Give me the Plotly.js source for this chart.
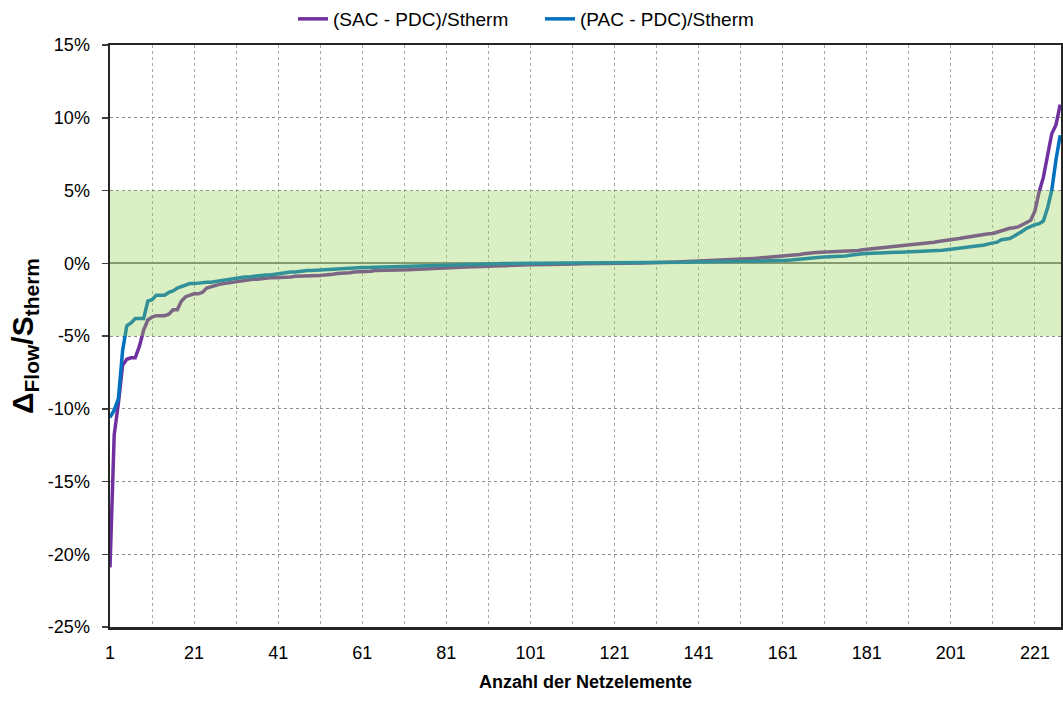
<!DOCTYPE html>
<html>
<head>
<meta charset="utf-8">
<script src="https://cdn.plot.ly/plotly-3.0.1.min.js"></script>
<style>
html,body{margin:0;padding:0;background:#fff;}
#chart{width:1063px;height:702px;}
</style>
</head>
<body>
<div id="chart"></div>
<script>
// Series names
var seriesNames = ["(SAC - PDC)/Stherm", "(PAC - PDC)/Stherm"];

// (SAC - PDC)/Stherm in percent, elements 1..227 (sorted)
var sacValues = [
-20.9,-11.8,-9.6,-7.0,-6.6,-6.5,-6.5,-5.7,-4.6,-3.9,
-3.7,-3.6,-3.6,-3.6,-3.5,-3.2,-3.2,-2.6,-2.3,-2.2,
-2.1,-2.1,-2.0,-1.7,-1.6,-1.5,-1.45,-1.4,-1.35,-1.3,
-1.3,-1.25,-1.2,-1.15,-1.1,-1.1,-1.05,-1.05,-1.0,-1.0,
-1.0,-1.0,-0.95,-0.95,-0.9,-0.9,-0.9,-0.9,-0.85,-0.85,
-0.85,-0.8,-0.8,-0.75,-0.7,-0.7,-0.65,-0.65,-0.6,-0.6,
-0.6,-0.55,-0.55,-0.5,-0.5,-0.5,-0.5,-0.5,-0.45,-0.45,
-0.45,-0.45,-0.43,-0.43,-0.42,-0.4,-0.38,-0.36,-0.34,-0.33,
-0.33,-0.32,-0.3,-0.28,-0.26,-0.25,-0.24,-0.24,-0.22,-0.22,
-0.2,-0.2,-0.19,-0.18,-0.17,-0.17,-0.15,-0.14,-0.13,-0.12,
-0.11,-0.1,-0.1,-0.09,-0.08,-0.08,-0.07,-0.06,-0.06,-0.05,
-0.05,-0.05,-0.04,-0.04,-0.03,-0.03,-0.02,-0.02,-0.01,-0.01,
0,0,0,0,0.01,0.01,0.02,0.02,0.03,0.03,
0.04,0.05,0.06,0.07,0.08,0.09,0.1,0.11,0.12,0.13,
0.14,0.15,0.16,0.18,0.19,0.2,0.22,0.24,0.25,0.26,
0.28,0.3,0.32,0.33,0.35,0.37,0.39,0.41,0.43,0.45,
0.47,0.5,0.52,0.55,0.6,0.65,0.7,0.72,0.74,0.75,
0.76,0.77,0.78,0.79,0.8,0.82,0.84,0.86,0.88,0.92,
0.95,0.97,1.0,1.03,1.05,1.08,1.1,1.15,1.19,1.22,
1.25,1.28,1.3,1.33,1.37,1.4,1.45,1.5,1.53,1.57,
1.6,1.65,1.7,1.75,1.8,1.85,1.92,1.95,1.98,2.02,
2.05,2.15,2.25,2.33,2.4,2.44,2.5,2.65,2.83,2.95,
3.6,4.9,5.9,7.5,8.9,9.5,10.9
];

// (PAC - PDC)/Stherm in percent, elements 1..227 (sorted)
var pacValues = [
-10.6,-10.1,-9.3,-6.0,-4.3,-4.1,-3.8,-3.8,-3.8,-2.6,
-2.5,-2.2,-2.2,-2.2,-2.0,-1.9,-1.7,-1.6,-1.5,-1.4,
-1.4,-1.35,-1.35,-1.3,-1.3,-1.25,-1.2,-1.15,-1.1,-1.05,
-1.0,-1.0,-0.95,-0.95,-0.9,-0.9,-0.85,-0.8,-0.8,-0.75,
-0.7,-0.7,-0.65,-0.6,-0.6,-0.55,-0.5,-0.5,-0.5,-0.48,
-0.46,-0.44,-0.42,-0.4,-0.38,-0.37,-0.36,-0.35,-0.34,-0.32,
-0.3,-0.3,-0.29,-0.28,-0.28,-0.27,-0.26,-0.25,-0.25,-0.24,
-0.24,-0.22,-0.2,-0.18,-0.16,-0.15,-0.14,-0.13,-0.12,-0.11,
-0.1,-0.1,-0.09,-0.08,-0.07,-0.06,-0.05,-0.05,-0.04,-0.04,
-0.03,-0.03,-0.02,-0.02,-0.01,-0.01,0,0,0,0,
0,0,0,0.01,0.01,0.01,0.01,0.01,0.01,0.01,
0.01,0.02,0.02,0.02,0.02,0.02,0.02,0.02,0.03,0.03,
0.03,0.03,0.03,0.04,0.04,0.04,0.04,0.05,0.05,0.05,
0.05,0.06,0.06,0.06,0.06,0.07,0.07,0.07,0.08,0.08,
0.08,0.09,0.09,0.09,0.1,0.1,0.1,0.1,0.11,0.11,
0.11,0.12,0.13,0.14,0.14,0.15,0.16,0.16,0.17,0.18,
0.18,0.2,0.22,0.25,0.3,0.35,0.38,0.4,0.41,0.42,
0.43,0.44,0.45,0.46,0.48,0.5,0.55,0.6,0.63,0.65,
0.67,0.69,0.7,0.72,0.73,0.74,0.75,0.75,0.76,0.77,
0.78,0.79,0.8,0.8,0.81,0.82,0.84,0.87,0.9,0.93,
0.96,1.0,1.03,1.06,1.1,1.13,1.15,1.2,1.26,1.33,
1.36,1.45,1.62,1.68,1.7,1.85,2.0,2.2,2.4,2.55,
2.65,2.72,2.9,3.8,5.0,7.1,8.8
];

// Category index (element number)
var elementIndex = [];
for (var i = 0; i < sacValues.length; i++) elementIndex.push(i + 1);

// Axis tick labels
var yTickVals = [-25, -20, -15, -10, -5, 0, 5, 10, 15];
var yTickText = ["-25%", "-20%", "-15%", "-10%", "-5%", "0%", "5%", "10%", "15%"];
var xTickVals = [1, 21, 41, 61, 81, 101, 121, 141, 161, 181, 201, 221];

// Tolerance band
var bandLow = -5, bandHigh = 5;

var FONT = "Liberation Sans, Arial, sans-serif";

var traces = [
  {
    x: elementIndex, y: sacValues, name: seriesNames[0],
    type: "scatter", mode: "lines",
    line: {color: "#7030A0", width: 3.5}
  },
  {
    x: elementIndex, y: pacValues, name: seriesNames[1],
    type: "scatter", mode: "lines",
    line: {color: "#0070C0", width: 3.5}
  }
];

var layout = {
  width: 1063, height: 702,
  paper_bgcolor: "#ffffff", plot_bgcolor: "#ffffff",
  margin: {l: 110, r: 2, t: 45, b: 75},
  font: {family: FONT, size: 18, color: "#000"},
  showlegend: true,
  legend: {
    orientation: "h", xref: "container", yref: "container",
    x: 0.508, xanchor: "center", y: 1.0, yanchor: "top",
    font: {family: FONT, size: 19, color: "#000"},
    itemwidth: 30, entrywidth: 202, entrywidthmode: "pixels",
    tracegroupgap: 0, bgcolor: "rgba(0,0,0,0)"
  },
  xaxis: {
    range: [1, 227.2],
    tickmode: "array", tickvals: xTickVals,
    ticks: "", ticklabelstandoff: 8,
    showgrid: true, gridcolor: "#a8a8a8", griddash: "dot", gridwidth: 1,
    minor: {tick0: 1, dtick: 10, showgrid: true, gridcolor: "#a8a8a8", griddash: "dot", gridwidth: 1},
    showline: true, linecolor: "#262626", linewidth: 2.5, mirror: true,
    zeroline: false,
    tickfont: {family: FONT, size: 18, color: "#000"},
    title: {text: "<b>Anzahl der Netzelemente</b>", font: {family: FONT, size: 18, color: "#000"}, standoff: 14}
  },
  yaxis: {
    range: [-25, 15],
    tickmode: "array", tickvals: yTickVals, ticktext: yTickText,
    ticks: "outside", ticklen: 6, tickcolor: "#404040", tickwidth: 1.5,
    ticklabelstandoff: 8,
    showgrid: true, gridcolor: "#8c8c8c", griddash: "dot", gridwidth: 1,
    showline: true, linecolor: "#262626", linewidth: 2.5, mirror: true,
    zeroline: true, zerolinecolor: "#7f7f7f", zerolinewidth: 2,
    tickfont: {family: FONT, size: 18, color: "#000"},
    title: {text: "<b>Δ<sub>Flow</sub>/S<sub>therm</sub></b>", font: {family: FONT, size: 30, color: "#000"}, standoff: 6}
  },
  shapes: [
    {
      type: "rect", xref: "paper", yref: "y",
      x0: 0, x1: 1, y0: bandLow, y1: bandHigh,
      fillcolor: "rgba(146,208,80,0.34)", line: {width: 0},
      layer: "above"
    }
  ]
};

Plotly.newPlot("chart", traces, layout, {displayModeBar: false, staticPlot: true});
</script>
</body>
</html>
